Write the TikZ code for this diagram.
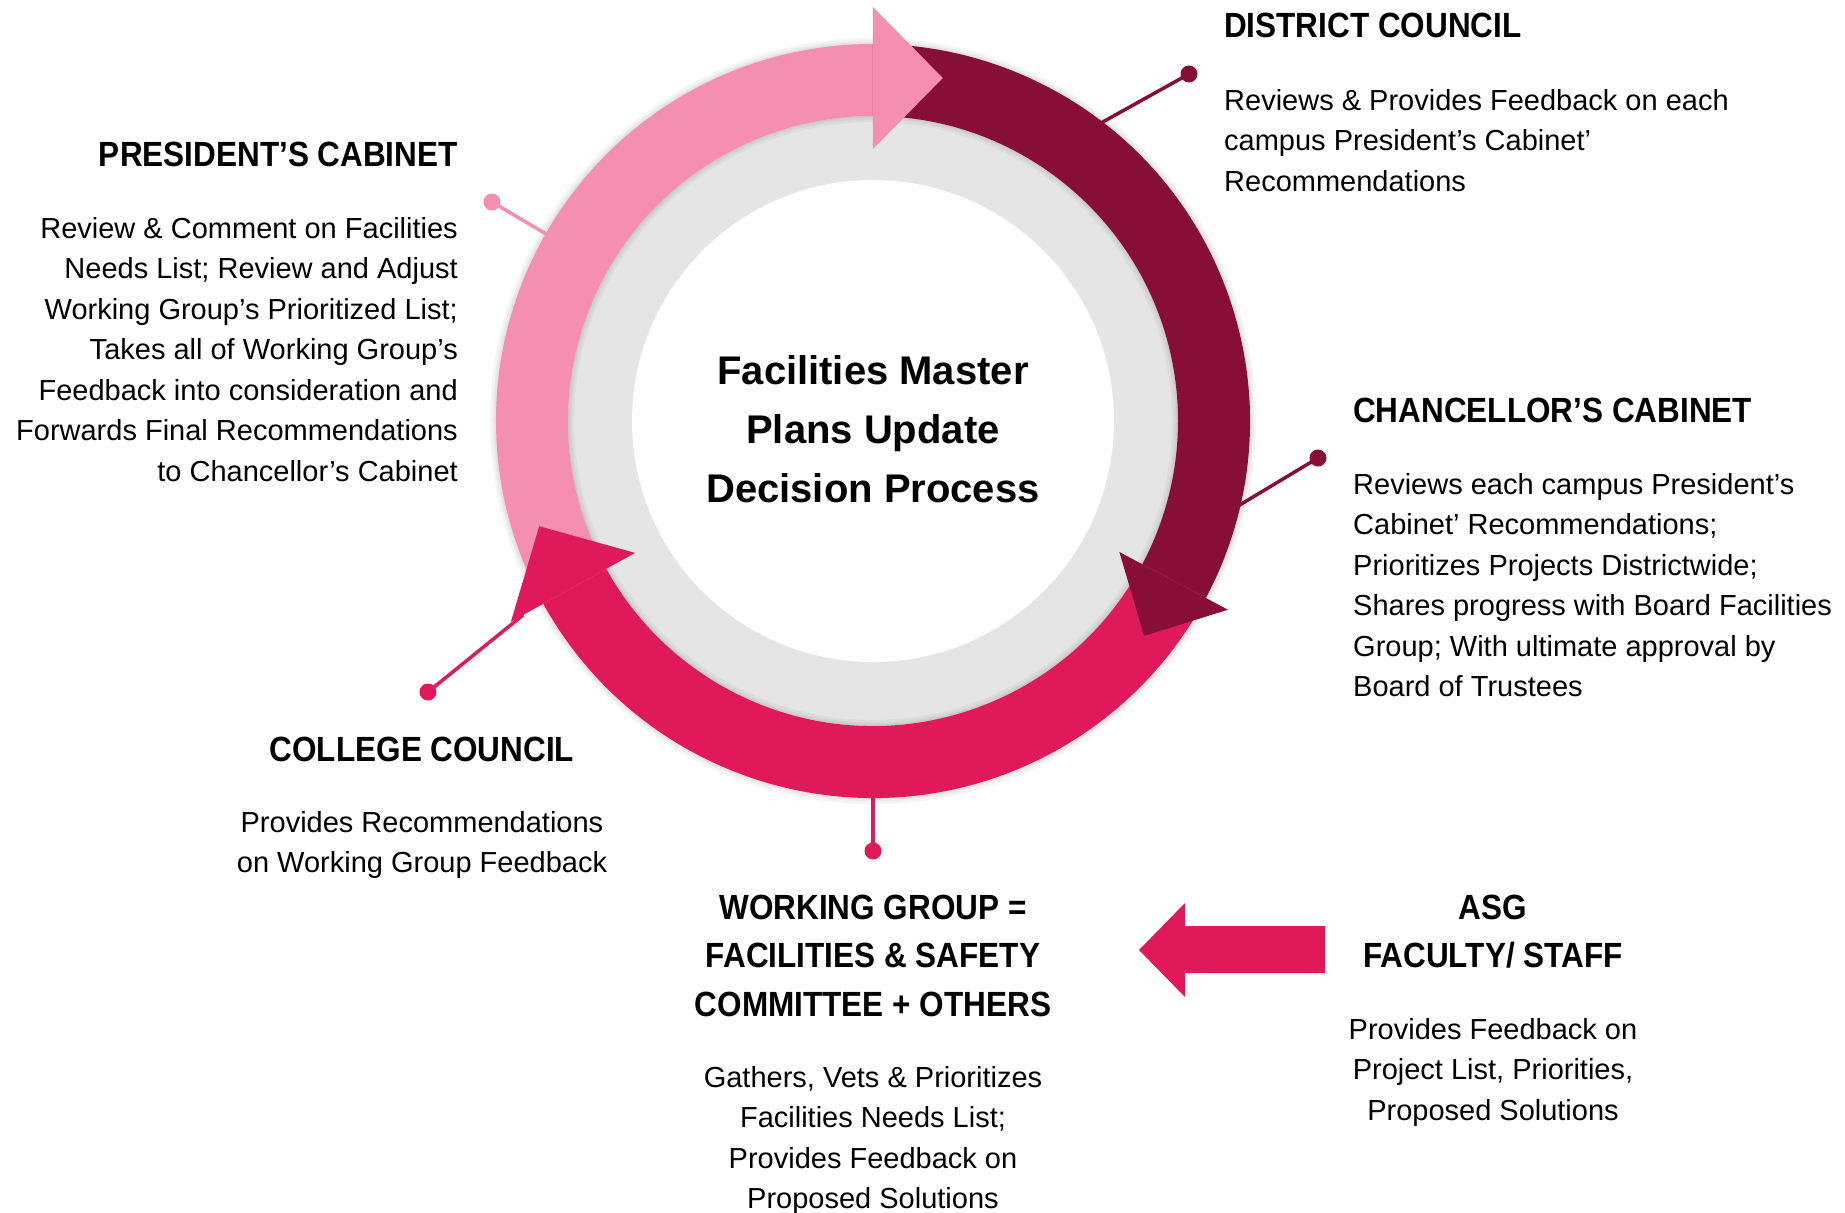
\documentclass[tikz,border=0pt]{standalone}
\usepackage{fontspec}
\setmainfont{Liberation Sans}
\newfontfamily\headfont{Liberation Sans}[FakeStretch=0.9]
\definecolor{lightpink}{HTML}{F48FB1}
\definecolor{maroon}{HTML}{870E36}
\definecolor{crimson}{HTML}{E0195A}
\definecolor{ringgrey}{HTML}{E5E5E5}
\begin{document}
\begin{tikzpicture}[x=1bp,y=1bp,
    leader/.style={line width=3.5bp},
    dot/.style={circle,inner sep=0pt,minimum size=17bp},
    glow/.style={black,opacity=.04},
    headtext/.style={inner sep=0pt,font=\headfont\bfseries\fontsize{35bp}{48.5bp}\selectfont},
    bodytext/.style={inner sep=0pt,font=\fontsize{29bp}{40.5bp}\selectfont}]
  \useasboundingbox (-873,-791) rectangle (972,421);
  %%rings
  \fill[ringgrey] (0,0) circle[radius=305bp];
  \fill[white] (0,0) circle[radius=241bp];
  \node[inner sep=0pt,align=center,font=\bfseries\fontsize{40bp}{59bp}\selectfont,anchor=base] (title) at (0,-81)
    {Facilities Master\\Plans Update\\Decision Process};
  %%soft shadow of the bands
  \draw[glow,line width=12bp] (0,0) circle[radius=377bp];
  \draw[glow,line width=7bp] (0,0) circle[radius=377bp];
  \draw[glow,line width=3bp] (0,0) circle[radius=377bp];
  \draw[glow,line width=12bp] (0,0) circle[radius=305bp];
  \draw[glow,line width=7bp] (0,0) circle[radius=305bp];
  \draw[glow,line width=3bp] (0,0) circle[radius=305bp];

  %%dots and leaders
  \node[dot,fill=maroon] (dcdot) at (316,347) {};
  \coordinate (dcend) at (210,288);
  \draw[leader,maroon] (dcdot.center) -- (dcend);
  \node[dot,fill=maroon] (ccdot) at (445,-37) {};
  \coordinate (ccend) at (350,-94);
  \draw[leader,maroon] (ccdot.center) -- (ccend);
  \node[dot,fill=lightpink] (pcdot) at (-381,219) {};
  \coordinate (pcend) at (-315,180);
  \draw[leader,lightpink] (pcdot.center) -- (pcend);
  \node[dot,fill=crimson] (coldot) at (-445,-271) {};
  \coordinate (colend) at (209:400);
  \draw[leader,crimson] (coldot.center) -- (colend);
  \node[dot,fill=crimson] (wgdot) at (0,-430) {};
  \coordinate (wgend) at (0,-360);
  \draw[leader,crimson] (wgdot.center) -- (wgend);

  %%bands
  \fill[lightpink] (209:305) arc[start angle=209,end angle=90,radius=305bp]
    -- (90:377) arc[start angle=90,end angle=209,radius=377bp] -- cycle;
  \fill[maroon] (90:305) arc[start angle=90,end angle=-28,radius=305bp]
    -- (-28:377) arc[start angle=-28,end angle=90,radius=377bp] -- cycle;
  \fill[crimson] (-28:305) arc[start angle=-28,end angle=-151,radius=305bp]
    -- (-151:377) arc[start angle=-151,end angle=-28,radius=377bp] -- cycle;
  %%heads
  \fill[lightpink] (90:272) -- (78.5:350) -- (90:414) -- cycle;
  \fill[maroon] (-28:279) -- (-38.4:346) -- (-28:402) -- cycle;
  \fill[crimson] (209:272) -- (197.5:350) -- (209:414) -- cycle;

  %%district council
  \node[headtext,anchor=base west] (dcttl) at (351,383) {DISTRICT COUNCIL};
  \node[bodytext,anchor=base west,align=left] (dcbody) at (351,230)
    {Reviews \& Provides Feedback on each\\campus President’s Cabinet’\\Recommendations};
  %%president's cabinet
  \node[headtext,anchor=base east] (pcttl) at (-415,255) {PRESIDENT’S CABINET};
  \node[bodytext,anchor=base east,align=right] (pcbody) at (-415,-60)
    {Review \& Comment on Facilities\\Needs List; Review and Adjust\\Working Group’s Prioritized List;\\Takes all of Working Group’s\\Feedback into consideration and\\Forwards Final Recommendations\\to Chancellor’s Cabinet};
  %%chancellor's cabinet
  \node[headtext,anchor=base west] (ccttl) at (480,-1) {CHANCELLOR’S CABINET};
  \node[bodytext,anchor=base west,align=left] (ccbody) at (480,-275.5)
    {Reviews each campus President’s\\Cabinet’ Recommendations;\\Prioritizes Projects Districtwide;\\Shares progress with Board Facilities\\Group; With ultimate approval by\\Board of Trustees};
  %%college council
  \node[headtext,anchor=base] (colttl) at (-451,-340) {COLLEGE COUNCIL};
  \node[bodytext,anchor=base,align=center] (colbody) at (-451,-451.5)
    {Provides Recommendations\\on Working Group Feedback};
  %%working group
  \node[headtext,anchor=base,align=center] (wgttl) at (0,-595)
    {WORKING GROUP =\\FACILITIES \& SAFETY\\COMMITTEE + OTHERS};
  \node[bodytext,anchor=base,align=center] (wgbody) at (0,-787.5)
    {Gathers, Vets \& Prioritizes\\Facilities Needs List;\\Provides Feedback on\\Proposed Solutions};
  %%asg
  \node[headtext,anchor=base,align=center] (asgttl) at (620,-546.5) {ASG\\FACULTY/ STAFF};
  \node[bodytext,anchor=base,align=center] (asgbody) at (620,-699)
    {Provides Feedback on\\Project List, Priorities,\\Proposed Solutions};
  %%block arrow
  \coordinate (wgtip) at (266,-529);
  \fill[crimson] (wgtip) -- ++(46,47) -- ++(0,-23) -- ++(140,0) -- ++(0,-47)
    -- ++(-140,0) -- ++(0,-24) -- cycle;
\end{tikzpicture}
\end{document}
